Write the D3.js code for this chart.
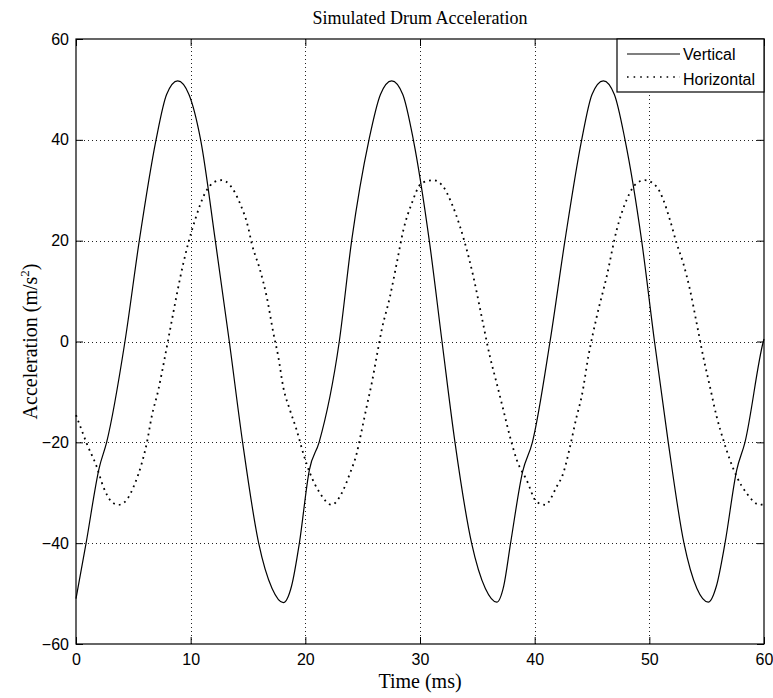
<!DOCTYPE html>
<html>
<head>
<meta charset="utf-8">
<script src="https://cdn.jsdelivr.net/npm/d3@7/dist/d3.min.js"></script>
<style>
  html, body { margin: 0; padding: 0; background: #fff; }
  svg { display: block; }
</style>
</head>
<body>
<svg id="chart" width="773" height="698"></svg>
<script>
// Sampled drum acceleration (time in ms, acceleration in m/s^2)
const vTime = [0, 0.88, 2.03, 2.67, 4.27, 5.52, 6.98, 7.9, 8.87, 9.85, 10.87, 12.15, 13.37, 14.53, 15.93, 17.1, 18.08, 18.8, 19.48, 20.35, 21.2, 22.96, 24.04, 25.55, 26.55, 27.53, 28.5, 29.42, 30.81, 31.92, 33.05, 34.5, 35.7, 36.69, 37.3, 37.9, 38.95, 39.8, 41.34, 42.64, 44.1, 45.0, 45.99, 46.95, 47.88, 49.33, 50.45, 51.65, 53.02, 54.15, 55.14, 55.85, 56.6, 57.62, 58.34, 59.94, 60];
const vValue = [-51, -40, -25, -20, 0, 20, 40, 49, 51.7, 49, 40, 20, 0, -20, -40, -49, -51.8, -48.5, -40, -25.5, -20, 0, 20, 40, 49, 51.7, 49, 40, 20, 0, -20, -40, -49, -51.7, -48.5, -40, -25.8, -20, 0, 20, 40, 49, 51.7, 49, 40, 20, 0, -20, -40, -49, -51.7, -48.5, -40, -25.5, -20, 0, 0.5];

const hTime = [0, 0.5, 0.93, 1.8, 2.38, 3.11, 3.69, 4.27, 5.15, 5.73, 6.17, 6.6, 7.18, 7.76, 8.2, 9.36, 9.79, 10.38, 11.25, 12.12, 12.7, 13.43, 14.3, 15.03, 15.32, 16.05, 16.63, 17.22, 17.64, 18.07, 18.66, 19.25, 19.82, 20.4, 21.28, 22.3, 23.17, 23.9, 24.48, 24.92, 25.35, 25.79, 26.22, 26.66, 27.38, 27.97, 28.55, 29.28, 30.15, 31.16, 32.03, 32.76, 33.49, 33.92, 34.65, 35.38, 36.1, 36.69, 37.27, 37.85, 38.44, 39.3, 40.17, 40.9, 41.92, 42.5, 43.08, 43.66, 44.1, 44.68, 45.41, 46.28, 47.15, 48.02, 48.9, 49.62, 50.64, 51.22, 51.8, 52.38, 52.96, 53.55, 54.13, 54.7, 55.29, 55.87, 56.45, 57.03, 57.62, 58.49, 59.65, 60];
const hValue = [-14.6, -17.6, -20.2, -24.8, -28.8, -31.8, -32.4, -31.8, -28.1, -24.2, -20.2, -14.9, -9.6, -3.0, 2.3, 15.5, 19.5, 24.1, 29.4, 31.7, 32.0, 31.0, 27.4, 22.5, 19.5, 14.2, 8.9, 1.6, -3.0, -9.0, -13.6, -17.6, -22.2, -26.1, -30.1, -32.4, -30.1, -26.1, -22.2, -17.6, -12.9, -8.3, -3.0, 2.3, 8.9, 15.5, 22.1, 27.4, 31.4, 32.0, 30.7, 27.4, 22.8, 19.5, 12.9, 4.9, -3.0, -8.3, -13.6, -18.9, -23.5, -27.5, -31.8, -32.4, -28.8, -26.1, -20.9, -14.9, -10.9, -3.0, 4.9, 12.9, 22.1, 28.1, 31.4, 32.0, 30.7, 28.1, 24.1, 19.5, 15.5, 10.2, 3.6, -3.0, -9.0, -14.9, -19.5, -23.5, -26.8, -30.1, -32.4, -32.2];

const xTicks = [0, 10, 20, 30, 40, 50, 60];
const yTicks = [-60, -40, -20, 0, 20, 40, 60];
const seriesNames = ["Vertical", "Horizontal"];

const svg = d3.select("#chart");
const plotLeft = 76, plotRight = 764, plotTop = 39, plotBottom = 644;

const x = d3.scaleLinear().domain([0, 60]).range([plotLeft, plotRight]);
const y = d3.scaleLinear().domain([-60, 60]).range([plotBottom, plotTop]);

const tickFont = "'Liberation Sans', Arial, sans-serif";
const serif = "'Liberation Serif', 'Times New Roman', serif";

// dotted grid
const grid = svg.append("g").attr("stroke", "#222").attr("stroke-width", 1)
  .attr("stroke-dasharray", "1,3").attr("shape-rendering", "crispEdges");
xTicks.slice(1, -1).forEach(t => {
  grid.append("line").attr("x1", Math.round(x(t)) + 0.5).attr("x2", Math.round(x(t)) + 0.5)
    .attr("y1", plotTop).attr("y2", plotBottom);
});
yTicks.slice(1, -1).forEach(t => {
  grid.append("line").attr("y1", Math.round(y(t)) + 0.5).attr("y2", Math.round(y(t)) + 0.5)
    .attr("x1", plotLeft).attr("x2", plotRight);
});

// axes with inward ticks on all four sides
const tickLen = 7;
function styleAxis(g) {
  g.select(".domain").remove();
  g.selectAll(".tick line").attr("stroke", "#000");
  g.selectAll(".tick text").attr("font-family", tickFont).attr("font-size", 16).attr("fill", "#000");
}
svg.append("g").attr("transform", `translate(0,${plotBottom})`)
  .call(d3.axisBottom(x).tickValues(xTicks).tickSizeInner(-tickLen).tickSizeOuter(0).tickPadding(10))
  .call(styleAxis);
svg.append("g").attr("transform", `translate(0,${plotTop})`)
  .call(d3.axisTop(x).tickValues(xTicks).tickSizeInner(-tickLen).tickSizeOuter(0).tickFormat(""))
  .call(styleAxis);
svg.append("g").attr("transform", `translate(${plotLeft},0)`)
  .call(d3.axisLeft(y).tickValues(yTicks).tickSizeInner(-tickLen).tickSizeOuter(0).tickPadding(7))
  .call(styleAxis);
svg.append("g").attr("transform", `translate(${plotRight},0)`)
  .call(d3.axisRight(y).tickValues(yTicks).tickSizeInner(-tickLen).tickSizeOuter(0).tickFormat(""))
  .call(styleAxis);

// axes box
svg.append("rect").attr("x", plotLeft).attr("y", plotTop)
  .attr("width", plotRight - plotLeft).attr("height", plotBottom - plotTop)
  .attr("fill", "none").attr("stroke", "#000").attr("stroke-width", 1.2);

// series
const line = d3.line().x(d => x(d[0])).y(d => y(d[1])).curve(d3.curveMonotoneX);
const vData = vTime.map((t, i) => [t, vValue[i]]);
const hData = hTime.map((t, i) => [t, hValue[i]]);

svg.append("path").datum(vData).attr("d", line)
  .attr("fill", "none").attr("stroke", "#000").attr("stroke-width", 1.2);
svg.append("path").datum(hData).attr("d", line)
  .attr("fill", "none").attr("stroke", "#000").attr("stroke-width", 1.8)
  .attr("stroke-dasharray", "1.8,4.2");

// legend
const lg = svg.append("g");
lg.append("rect").attr("x", 617).attr("y", plotTop).attr("width", plotRight - 617).attr("height", 53)
  .attr("fill", "#fff").attr("stroke", "#000").attr("stroke-width", 1.2);
lg.append("line").attr("x1", 627).attr("x2", 680).attr("y1", 54).attr("y2", 54)
  .attr("stroke", "#000").attr("stroke-width", 1.2);
lg.append("line").attr("x1", 627).attr("x2", 680).attr("y1", 77).attr("y2", 77)
  .attr("stroke", "#000").attr("stroke-width", 1.6).attr("stroke-dasharray", "1.6,5");
lg.append("text").attr("x", 683).attr("y", 60).text(seriesNames[0])
  .attr("font-family", tickFont).attr("font-size", 16);
lg.append("text").attr("x", 683).attr("y", 85).text(seriesNames[1])
  .attr("font-family", tickFont).attr("font-size", 16);

// title and axis labels
svg.append("text").attr("x", (plotLeft + plotRight) / 2).attr("y", 24).attr("text-anchor", "middle")
  .attr("font-family", serif).attr("font-size", 18).text("Simulated Drum Acceleration");
svg.append("text").attr("x", (plotLeft + plotRight) / 2).attr("y", 688).attr("text-anchor", "middle")
  .attr("font-family", serif).attr("font-size", 20).text("Time (ms)");
const yl = svg.append("text").attr("transform", `translate(37,${(plotTop + plotBottom) / 2}) rotate(-90)`)
  .attr("text-anchor", "middle").attr("font-family", serif).attr("font-size", 20);
yl.append("tspan").text("Acceleration (m/s");
yl.append("tspan").attr("font-size", 13).attr("dy", -8).text("2");
yl.append("tspan").attr("dy", 8).text(")");
</script>
</body>
</html>
